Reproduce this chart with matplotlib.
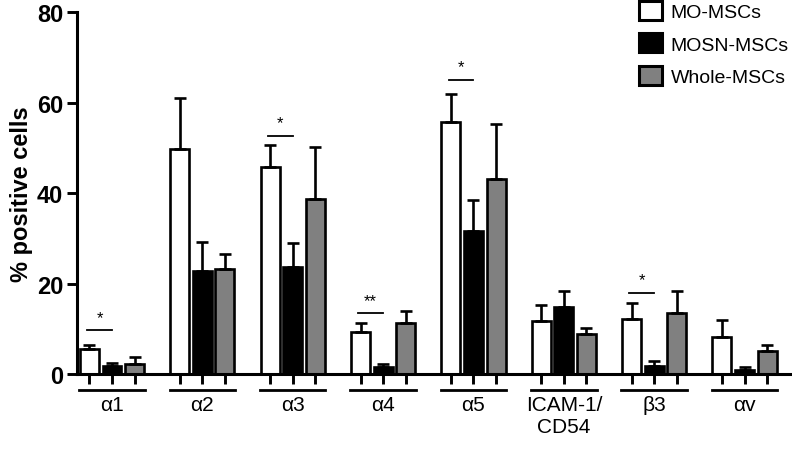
import matplotlib
matplotlib.use("Agg")
import matplotlib.pyplot as plt
from matplotlib.patches import Patch
import numpy as np

plt.rcParams['font.family'] = ['Liberation Sans', 'DejaVu Sans']

groups = ['α1', 'α2', 'α3', 'α4', 'α5', 'ICAM-1/\nCD54', 'β3', 'αv']
series = ['MO-MSCs', 'MOSN-MSCs', 'Whole-MSCs']
mo = [5.5, 49.7, 45.8, 9.3, 55.8, 11.8, 12.2, 8.2]
mo_err = [0.9, 11.4, 4.9, 2.1, 6.2, 3.5, 3.5, 3.7]
mosn = [1.7, 22.8, 23.7, 1.5, 31.7, 14.9, 1.8, 0.9]
mosn_err = [0.7, 6.3, 5.3, 0.8, 6.7, 3.5, 1.0, 0.7]
whole = [2.2, 23.2, 38.8, 11.4, 43.1, 8.9, 13.5, 5.1]
whole_err = [1.6, 3.3, 11.4, 2.6, 12.2, 1.2, 4.8, 1.4]
# significance: (group index, line height, label)
sig_group = [0, 2, 3, 4, 6]
sig_y = [9.7, 52.7, 13.5, 65.0, 18.0]
sig_label = ['*', '*', '**', '*', '*']

colors = ['white', 'black', '#808080']
vals = [mo, mosn, whole]
errs = [mo_err, mosn_err, whole_err]

fig = plt.figure(figsize=(7.92, 4.52), dpi=100)
ax = fig.add_axes([0.0972, 0.170, 0.9028, 0.801])

gx = np.arange(len(groups)) * 4.0
w = 0.84
lw = 1.9
all_x = []
for i in range(3):
    x = gx + i
    all_x.extend(x)
    ax.bar(x, vals[i], width=w, color=colors[i], edgecolor='black', linewidth=lw, zorder=2)
    ax.errorbar(x, vals[i], yerr=[np.zeros(len(groups)), errs[i]], fmt='none',
                ecolor='black', elinewidth=lw, capsize=4, capthick=lw, zorder=3)

for g, y, lab in zip(sig_group, sig_y, sig_label):
    ax.plot([gx[g] - 0.1, gx[g] + 1.0], [y, y], color='black', lw=1.3, zorder=3)
    ax.text(gx[g] + 0.45, y + 1.2, lab, ha='center', va='bottom', fontsize=12)

ax.set_ylim(0, 80)
ax.set_xlim(-0.55, 31.1)
ax.set_yticks([0, 20, 40, 60, 80])
ax.set_yticklabels(['0', '20', '40', '60', '80'], fontsize=17, fontweight='bold')
ax.set_xticks(sorted(all_x))
ax.set_xticklabels([])
ax.tick_params(axis='both', direction='out', length=7, width=2.1, pad=3)
ax.spines['top'].set_visible(False)
ax.spines['right'].set_visible(False)
ax.spines['left'].set_linewidth(2.2)
ax.spines['bottom'].set_linewidth(2.2)
ax.set_ylabel('% positive cells', fontsize=17, fontweight='bold', labelpad=3)

trans = ax.get_xaxis_transform()
for g, lab in zip(gx, groups):
    ax.plot([g - 0.45, g + 2.45], [-0.043, -0.043], color='black', lw=2,
            transform=trans, clip_on=False)
    ax.text(g + 1, -0.058, lab, ha='center', va='top', fontsize=15,
            transform=trans, linespacing=1.2)

handles = [Patch(facecolor=c, edgecolor='black', linewidth=2.2) for c in colors]
fig.legend(handles, series, loc='upper right', bbox_to_anchor=(0.996, 0.995),
           frameon=False, fontsize=14, handlelength=1.19, handleheight=1.13,
           labelspacing=0.62, handletextpad=0.45, borderpad=0, borderaxespad=0)

fig.savefig('out.png', dpi=100)
